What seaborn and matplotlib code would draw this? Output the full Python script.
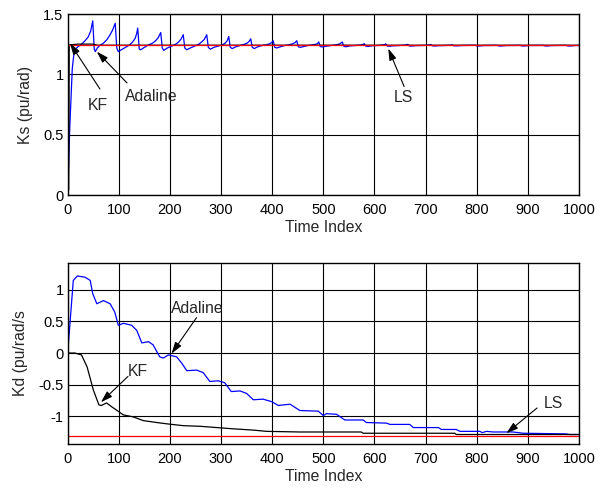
import matplotlib
matplotlib.use("Agg")
import matplotlib.pyplot as plt
import seaborn as sns

# ---------- data ----------

# top panel: Ks estimates
ks_ada_x = [0, 4, 9, 13, 20, 27, 34, 40, 45, 49,
            52, 54, 58, 64, 70, 77, 83, 88, 93,
            96, 99, 105, 113, 121, 127, 132, 135, 137,
            140, 143, 150, 158, 166, 172, 177, 182,
            185, 188, 195, 203, 211, 217, 222, 226,
            229, 233, 240, 248, 256, 262, 267, 272,
            275, 279, 286, 294, 302, 308, 312, 315,
            318, 322, 329, 337, 345, 351, 355, 358,
            361, 365, 372, 380, 388, 395, 399, 402,
            405, 409, 416, 424, 432, 440, 445, 448,
            451, 455, 462, 470, 478, 485, 489, 491,
            494, 498, 506, 515, 524, 531, 535, 537,
            540, 544, 552, 562, 572, 578, 580,
            583, 587, 595, 605, 615, 620, 622,
            625, 629, 637, 648, 658, 663, 665,
            668, 672, 680, 692, 703, 708, 710,
            713, 717, 725, 737, 748, 752,
            755, 759, 770, 797, 800, 804, 815, 840,
            843, 847, 858, 885, 888, 892, 903, 930,
            933, 937, 948, 975, 978, 982, 993, 1000]
ks_ada_y = [0.0, 0.55, 1.05, 1.2, 1.23, 1.25, 1.28, 1.31, 1.36, 1.445,
            1.21, 1.19, 1.22, 1.245, 1.26, 1.29, 1.33, 1.37, 1.425,
            1.22, 1.19, 1.205, 1.225, 1.245, 1.27, 1.30, 1.34, 1.385,
            1.21, 1.205, 1.225, 1.245, 1.26, 1.28, 1.305, 1.348,
            1.22, 1.2, 1.22, 1.235, 1.25, 1.27, 1.295, 1.33,
            1.22, 1.205, 1.22, 1.235, 1.25, 1.27, 1.29, 1.33,
            1.225, 1.21, 1.225, 1.235, 1.245, 1.26, 1.28, 1.315,
            1.225, 1.215, 1.23, 1.24, 1.25, 1.26, 1.275, 1.296,
            1.225, 1.215, 1.23, 1.24, 1.245, 1.255, 1.265, 1.28,
            1.225, 1.22, 1.23, 1.24, 1.245, 1.255, 1.265, 1.28,
            1.23, 1.225, 1.232, 1.24, 1.245, 1.25, 1.258, 1.27,
            1.232, 1.228, 1.235, 1.24, 1.245, 1.252, 1.262, 1.27,
            1.234, 1.23, 1.237, 1.24, 1.244, 1.25, 1.256,
            1.235, 1.232, 1.238, 1.24, 1.244, 1.248, 1.254,
            1.236, 1.234, 1.238, 1.24, 1.243, 1.246, 1.25,
            1.237, 1.235, 1.239, 1.24, 1.242, 1.245, 1.248,
            1.238, 1.236, 1.239, 1.24, 1.242, 1.246,
            1.238, 1.237, 1.24, 1.242, 1.237, 1.236, 1.24, 1.241,
            1.237, 1.236, 1.24, 1.241, 1.237, 1.236, 1.24, 1.241,
            1.237, 1.236, 1.24, 1.241, 1.237, 1.236, 1.24, 1.24]

ks_kf_x = [0, 2, 3, 20, 50, 58, 1000]
ks_kf_y = [0.0, 0.05, 1.245, 1.252, 1.252, 1.243, 1.243]

ks_ls_x = [0, 1000]
ks_ls_y = [1.243, 1.243]

# bottom panel: Kd estimates
kd_ada_x = [0, 11, 19, 34, 44, 49, 57, 70, 83, 92, 99, 109, 125, 135, 145,
            158, 167, 180, 187, 197, 213, 223, 233, 252, 265, 278, 294, 307,
            320, 337, 350, 363, 382, 399, 412, 435, 454, 490, 500, 506, 526,
            542, 578, 584, 624, 630, 669, 676, 725, 731, 760, 767, 806, 811,
            819, 832, 871, 891, 975, 981, 1000]
kd_ada_y = [0.0, 1.15, 1.22, 1.2, 1.15, 0.94, 0.78, 0.83, 0.78, 0.65, 0.44,
            0.47, 0.44, 0.36, 0.16, 0.18, 0.13, -0.06, -0.08, -0.03, -0.06,
            -0.16, -0.28, -0.27, -0.31, -0.45, -0.44, -0.47, -0.61, -0.60,
            -0.64, -0.74, -0.73, -0.77, -0.83, -0.81, -0.91, -0.92, -0.99,
            -0.96, -0.97, -1.06, -1.06, -1.10, -1.11, -1.13, -1.13, -1.18,
            -1.18, -1.21, -1.21, -1.24, -1.24, -1.26, -1.24, -1.25, -1.25,
            -1.27, -1.28, -1.29, -1.29]

kd_kf_x = [0, 14, 27, 38, 50, 61, 66, 76, 86, 109, 128, 148, 174, 193, 226,
           259, 324, 363, 389, 454, 574, 578, 757, 760, 1000]
kd_kf_y = [0.0, 0.0, -0.03, -0.22, -0.58, -0.82, -0.83, -0.79, -0.85, -0.98,
           -1.01, -1.07, -1.10, -1.12, -1.15, -1.16, -1.20, -1.22, -1.24,
           -1.25, -1.25, -1.27, -1.27, -1.29, -1.29]

kd_ls_x = [0, 1000]
kd_ls_y = [-1.32, -1.32]

x_ticks = [0, 100, 200, 300, 400, 500, 600, 700, 800, 900, 1000]

# ---------- plotting ----------

sns.set_style("white")
plt.rcParams["font.family"] = ["Liberation Sans", "DejaVu Sans"]
plt.rcParams["font.size"] = 10

fig = plt.figure(figsize=(6.01, 4.90), dpi=100)
ax1 = fig.add_axes([0.1126, 0.602, 0.8508, 0.369])
ax2 = fig.add_axes([0.1126, 0.0939, 0.8508, 0.370])

LABEL_SIZE = 11.3


def draw_lines(ax, series):
    for xs, ys, col in series:
        sns.lineplot(x=xs, y=ys, ax=ax, color=col, linewidth=0.9,
                     estimator=None, sort=False)


def style_axis(ax, ylim, yticks, yticklabels, ylabel, ylab_x):
    ax.set_xlim(0, 1000)
    ax.set_ylim(*ylim)
    ax.set_xticks(x_ticks)
    ax.set_yticks(yticks)
    ax.set_yticklabels(yticklabels)
    ax.grid(True, color="black", linewidth=0.8)
    ax.set_axisbelow(True)
    for sp in ax.spines.values():
        sp.set_color("black")
        sp.set_linewidth(1.0)
    ax.tick_params(direction="in", length=3, labelsize=10.5, colors="black")
    ax.tick_params(axis="x", pad=6)
    ax.tick_params(axis="y", pad=3)
    ax.set_xlabel("Time Index", fontsize=LABEL_SIZE, labelpad=2)
    ax.set_ylabel(ylabel, fontsize=LABEL_SIZE)
    # right edge of the rotated label sits at this axes-x position
    ax.yaxis.set_label_coords(ylab_x, 0.5)


def arrow(ax, label, text_xy, tail, tip):
    ax.annotate("", xy=tip, xytext=tail,
                arrowprops=dict(arrowstyle="-|>,head_length=0.7,head_width=0.22",
                                color="black", lw=0.8, shrinkA=0, shrinkB=0))
    ax.text(text_xy[0], text_xy[1], label, ha="center", va="center",
            fontsize=LABEL_SIZE)


draw_lines(ax1, [(ks_ada_x, ks_ada_y, "blue"),
                 (ks_kf_x, ks_kf_y, "black"),
                 (ks_ls_x, ks_ls_y, "red")])
style_axis(ax1, (0, 1.5), [0, 0.5, 1, 1.5], ["0", "0.5", "1", "1.5"],
           "Ks (pu/rad)", -0.067)
arrow(ax1, "KF", (59, 0.74), (63, 0.88), (4.5, 1.26))
arrow(ax1, "Adaline", (163, 0.815), (116, 0.93), (57, 1.19))
arrow(ax1, "LS", (656, 0.806), (658, 0.90), (627, 1.215))

draw_lines(ax2, [(kd_ada_x, kd_ada_y, "blue"),
                 (kd_kf_x, kd_kf_y, "black"),
                 (kd_ls_x, kd_ls_y, "red")])
style_axis(ax2, (-1.44, 1.43), [-1, -0.5, 0, 0.5, 1],
           ["-1", "-0.5", "0", "0.5", "1"], "Kd (pu/rad/s", -0.077)
arrow(ax2, "Adaline", (253, 0.706), (252, 0.56), (203, -0.01))
arrow(ax2, "KF", (138, -0.30), (118, -0.37), (65, -0.78))
arrow(ax2, "LS", (949, -0.806), (918, -0.87), (858, -1.27))

fig.savefig("out.png", dpi=100)
